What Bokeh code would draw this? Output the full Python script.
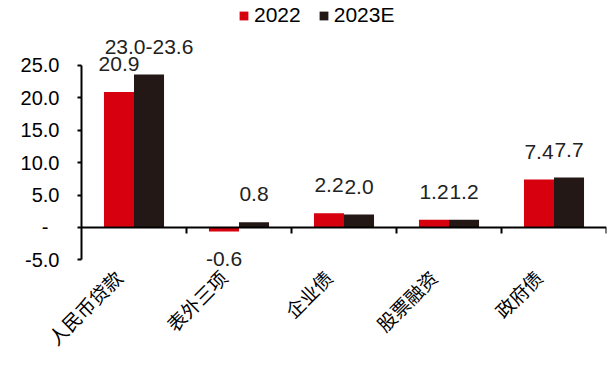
from math import pi
from bokeh.plotting import figure
from bokeh.models import (ColumnDataSource, Legend, LegendItem,
                          Range1d, Span, FixedTicker)
from bokeh.core.properties import value
from bokeh.embed import file_html
from bokeh.resources import INLINE

# ---- data ----
categories = ["人民币贷款", "表外三项", "企业债", "股票融资", "政府债"]
series_names = ["2022", "2023E"]
values_2022 = [20.9, -0.6, 2.2, 1.2, 7.4]
values_2023e = [23.6, 0.8, 2.0, 1.2, 7.7]
labels_2022 = ["20.9", "-0.6", "2.2", "1.2", "7.4"]
labels_2023e = ["23.0-23.6", "0.8", "2.0", "1.2", "7.7"]
y_ticks = [-5, 0, 5, 10, 15, 20, 25]
y_tick_labels = ["-5.0", "-\u00a0\u00a0", "5.0", "10.0", "15.0", "20.0", "25.0"]

RED = "#D7000F"
DARK = "#231815"
NUM_FONT = "Liberation Sans"
CJK_FONT = "Noto Sans CJK SC"

n = len(categories)
bw = 0.286
centers = [i + 0.5 for i in range(n)]

src = ColumnDataSource(dict(
    cat=categories,
    x22=[c - bw / 2 for c in centers],
    x23=[c + bw / 2 for c in centers],
    v22=values_2022,
    v23=values_2023e,
    l22=labels_2022,
    l23=labels_2023e,
    o22=[-28 if v >= 0 else 28 for v in values_2022],
    o23=[-28 if v >= 0 else 28 for v in values_2023e],
))

p = figure(width=610, height=367,
           x_range=Range1d(0, n),
           y_range=Range1d(-7.10, 35.03),
           output_backend="svg", toolbar_location=None,
           min_border_left=81, min_border_right=4,
           min_border_top=0, min_border_bottom=94)

p.outline_line_color = None
p.xgrid.visible = False
p.ygrid.visible = False
p.background_fill_color = "white"

r22 = p.vbar(x="x22", top="v22", width=bw, source=src,
             fill_color=RED, line_color=None)
r23 = p.vbar(x="x23", top="v23", width=bw, source=src,
             fill_color=DARK, line_color=None)

# zero line and category separator ticks
p.add_layout(Span(location=0, dimension="width", line_color="black", line_width=2))
p.segment(x0=list(range(1, n + 1)), x1=list(range(1, n + 1)),
          y0=[0] * n, y1=[-0.93] * n, line_color="black", line_width=2)

# data labels
p.text(x="x22", y="v22", text="l22", source=src,
       y_offset="o22", text_align="center", text_baseline="middle",
       text_font=value(NUM_FONT), text_font_size="21px", text_color="#222222")
p.text(x="x23", y="v23", text="l23", source=src,
       y_offset="o23", text_align="center", text_baseline="middle",
       text_font=value(NUM_FONT), text_font_size="21px", text_color="#222222")

# category axis (rotated labels)
lab_shift = 0.15
lab_ticks = [c - lab_shift for c in centers]
xa = p.xaxis[0]
xa.ticker = FixedTicker(ticks=lab_ticks)
xa.major_label_overrides = dict(zip(lab_ticks, categories))
xa.axis_line_color = None
xa.major_tick_line_color = None
xa.major_tick_in = 0
xa.major_tick_out = 0
xa.minor_tick_line_color = None
xa.minor_tick_in = 0
xa.minor_tick_out = 0
xa.major_label_orientation = pi / 4
xa.major_label_standoff = 0
xa.major_label_text_font = CJK_FONT
xa.major_label_text_font_size = "19px"
xa.major_label_text_color = "black"

# y axis
ya = p.yaxis[0]
ya.bounds = (-5, 25)
ya.ticker = FixedTicker(ticks=y_ticks)
ya.major_label_overrides = dict(zip(y_ticks, y_tick_labels))
ya.axis_line_color = "black"
ya.axis_line_width = 2
ya.major_tick_line_color = "black"
ya.major_tick_line_width = 2
ya.major_tick_in = 0
ya.major_tick_out = 4
ya.minor_tick_line_color = None
ya.major_label_standoff = 18
ya.major_label_text_font = NUM_FONT
ya.major_label_text_font_size = "20px"
ya.major_label_text_color = "black"

legend = Legend(items=[LegendItem(label=series_names[0], renderers=[r22]),
                       LegendItem(label=series_names[1], renderers=[r23])],
                location=(157, 246), orientation="horizontal",
                glyph_width=11, glyph_height=11, label_standoff=5, spacing=17,
                padding=0, margin=0, border_line_color=None,
                background_fill_alpha=0,
                label_text_font=NUM_FONT, label_text_font_size="21px",
                label_text_color="black")
p.add_layout(legend, "center")

open("out.html", "w").write(file_html(p, INLINE))
